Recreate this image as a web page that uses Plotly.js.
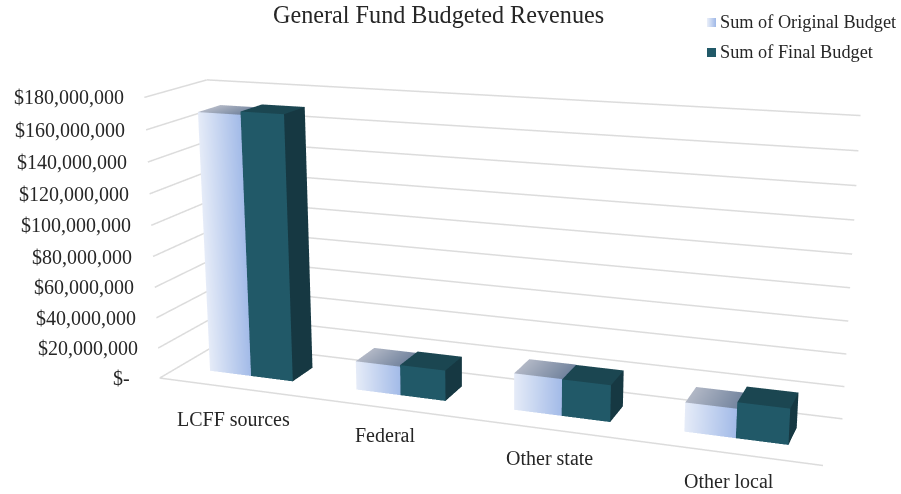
<!DOCTYPE html>
<html><head><meta charset="utf-8">
<script src="https://cdn.plot.ly/plotly-3.0.1.min.js"></script>
<style>html,body{margin:0;padding:0;width:901px;height:494px;overflow:hidden;background:#fff}
#c{position:absolute;left:-743px;top:-408px;width:2387px;height:1310px}</style>
</head><body><div id="c"></div>
<script>
const categories=["LCFF sources","Federal","Other state","Other local"];
const originalBudget=[168500000,18500000,23000000,17800000];
const finalBudget=[170500000,19500000,22800000,21700000];
const tickValues=[0,20000000,40000000,60000000,80000000,100000000,120000000,140000000,160000000,180000000];
const tickLabels=["$-","$20,000,000","$40,000,000","$60,000,000","$80,000,000","$100,000,000","$120,000,000","$140,000,000","$160,000,000","$180,000,000"];
const seriesNames=["Sum of Original Budget","Sum of Final Budget"];

const W=2387,H=1310,OX=743,OY=408;
const px=x=>(x+OX)/W, py=y=>1-(y+OY)/H;
const barW=0.286, y0=0.31, y1=0.68;
const barCentre=c=>c+0.508-0.004*c;
const FONT='"Liberation Serif","Times New Roman",serif';

function face(m,pts,cols){
  const b=m.x.length;
  pts.forEach((p,i)=>{m.x.push(p[0]);m.y.push(p[1]);m.z.push(p[2]);m.vertexcolor.push(cols[i]);});
  m.i.push(b,b);m.j.push(b+1,b+2);m.k.push(b+2,b+3);
}
function barMesh(vals,side,pal){
  const m={type:'mesh3d',x:[],y:[],z:[],i:[],j:[],k:[],vertexcolor:[],flatshading:false,
    lighting:{ambient:1,diffuse:0,specular:0,roughness:1,fresnel:0},hoverinfo:'skip',showscale:false};
  vals.forEach((v,c)=>{
    const a=barCentre(c)+(side<0?-barW:0), b=a+barW;
    face(m,[[a,y0,0],[b,y0,0],[b,y0,v],[a,y0,v]],[pal.fl,pal.fr,pal.fr,pal.fl]);
    face(m,[[a,y0,v],[b,y0,v],[b,y1,v],[a,y1,v]],[pal.tl,pal.tr,pal.tr,pal.tl]);
    face(m,[[b,y0,0],[b,y1,0],[b,y1,v],[b,y0,v]],[pal.s,pal.s,pal.s,pal.s]);
  });
  return m;
}
const lx=[],ly=[],lz=[];
function seg(a,b){lx.push(a[0],b[0],null);ly.push(a[1],b[1],null);lz.push(a[2],b[2],null);}
tickValues.forEach(v=>{seg([0,0,v],[0,1,v]);seg([0,1,v],[4,1,v]);});
seg([0,0,0],[4,0,0]);
const grid={type:'scatter3d',mode:'lines',x:lx,y:ly,z:lz,line:{color:'#dcdcdc',width:3},hoverinfo:'skip',showlegend:false,connectgaps:false};

const data=[grid,
 barMesh(originalBudget,-1,{fl:'#e6ecf8',fr:'#a3bbe8',tl:'#b2b8c6',tr:'#74859f',s:'#6b7fa5'}),
 barMesh(finalBudget,1,{fl:'#215968',fr:'#215968',tl:'#1b4651',tr:'#1b4651',s:'#163842'})];

const sceneAnn=[];
tickValues.forEach((v,i)=>sceneAnn.push({x:0,y:0,z:v,text:tickLabels[i],showarrow:false,xanchor:'right',yanchor:'middle',
  xshift:tickLabels[i]==='$-'?-28:-18.5,yshift:0,font:{family:FONT,size:20,color:'#262626'}}));
const catShift=[[1.5,-31.5],[0.5,-27],[0,-29],[1,-28]];
categories.forEach((c,i)=>sceneAnn.push({x:i+0.5,y:0,z:0,text:c,showarrow:false,xanchor:'center',yanchor:'middle',
  xshift:catShift[i][0],yshift:catShift[i][1],font:{family:FONT,size:20,color:'#262626'}}));

const ann=[
 {xref:'paper',yref:'paper',x:px(438.5),y:py(15),text:'General Fund Budgeted Revenues',showarrow:false,xanchor:'center',yanchor:'middle',font:{family:FONT,size:24.2,color:'#262626'}},
 {xref:'paper',yref:'paper',x:px(718),y:py(22),text:seriesNames[0],showarrow:false,xanchor:'left',yanchor:'middle',font:{family:FONT,size:18.3,color:'#262626'}},
 {xref:'paper',yref:'paper',x:px(718),y:py(52.5),text:seriesNames[1],showarrow:false,xanchor:'left',yanchor:'middle',font:{family:FONT,size:18.3,color:'#262626'}}
];
const shapes=[];
function mix(a,b,t){return 'rgb('+a.map((v,i)=>Math.round(v+(b[i]-v)*t)).join(',')+')';}
for(let i=0;i<9;i++){
  shapes.push({type:'rect',xref:'paper',yref:'paper',layer:'above',x0:px(707+i),x1:px(708+i),y0:py(27),y1:py(18),line:{width:0},fillcolor:mix([230,236,248],[163,187,232],i/8)});
}
shapes.push({type:'rect',xref:'paper',yref:'paper',layer:'above',x0:px(707),x1:px(716),y0:py(57),y1:py(48),line:{width:0},fillcolor:'#215968'});

const hiddenAxis=r=>({range:r,autorange:false,visible:false,showgrid:false,zeroline:false,showticklabels:false,showspikes:false,showbackground:false,showline:false});
const layout={width:W,height:H,margin:{l:0,r:0,t:0,b:0},paper_bgcolor:'#fff',showlegend:false,hovermode:false,annotations:ann,shapes:shapes,
 scene:{domain:{x:[0,1],y:[0,1]},bgcolor:'rgba(0,0,0,0)',dragmode:'orbit',
  xaxis:hiddenAxis([0,4]),yaxis:hiddenAxis([0,1]),zaxis:hiddenAxis([0,180000000]),
  aspectmode:'manual',aspectratio:{x:0.993,y:0.1815,z:0.4299},
  camera:{eye:{x:0.7447,y:-2.0502,z:0.5773},center:{x:-0.0542,y:-0.0052,z:0.0088},up:{x:-0.0853,y:0.2362,z:0.968},projection:{type:'perspective'}},
  annotations:sceneAnn}};
Plotly.newPlot('c',data,layout,{displayModeBar:false});
</script></body></html>
